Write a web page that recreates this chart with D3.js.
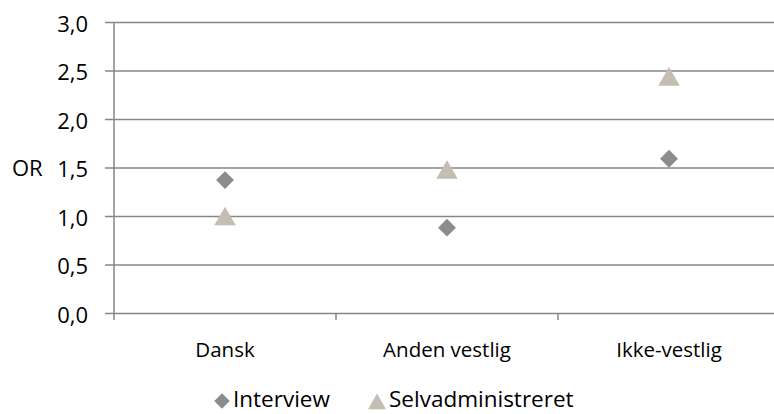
<!DOCTYPE html>
<html>
<head>
<meta charset="utf-8">
<script src="https://cdn.jsdelivr.net/npm/d3@7"></script>
<style>
  body { margin: 0; background: #fff; }
  text { font-family: "Open Sans", "Noto Sans", sans-serif; fill: #000; }
</style>
</head>
<body>
<div id="chart"></div>
<script>
const categories = ['Dansk', 'Anden vestlig', 'Ikke-vestlig'];
const interview = [1.37, 0.88, 1.59];
const selvadm = [1.0, 1.48, 2.44];
const yTicks = [0, 0.5, 1.0, 1.5, 2.0, 2.5, 3.0];

const W = 774, H = 414;
const plotL = 114, plotR = 780, plotT = 22, plotB = 313;

const svg = d3.select('#chart').append('svg').attr('width', W).attr('height', H);

const x = d3.scaleBand().domain(categories).range([plotL, plotR]);
const y = d3.scaleLinear().domain([0, 3]).range([plotB, plotT]);
const fmt = v => d3.format('.1f')(v).replace('.', ',');
const cx = c => x(c) + x.bandwidth() / 2;

// Gridlines + y tick labels
const yAxis = svg.append('g').attr('transform', `translate(${plotL},0)`)
  .call(d3.axisLeft(y).tickValues(yTicks).tickFormat(fmt).tickSize(9).tickSizeOuter(0));
yAxis.select('.domain').attr('stroke', '#868686').attr('stroke-width', 1.5)
  .attr('d', `M0,${plotT}V${plotB + 7}`);
yAxis.selectAll('.tick line').attr('stroke', '#868686').attr('stroke-width', 1.5)
  .attr('x2', plotR - plotL).attr('x1', -9);
yAxis.selectAll('.tick text').attr('x', -26).attr('dy', '0.41em').attr('font-size', 22)
  .attr('font-family', '"Open Sans", sans-serif').attr('fill', '#000');

// x axis category ticks
const xAxis = svg.append('g').attr('transform', `translate(0,${plotB})`);
categories.slice(1).forEach(c => {
  xAxis.append('line').attr('x1', x(c)).attr('x2', x(c)).attr('y1', 0).attr('y2', 7)
    .attr('stroke', '#868686').attr('stroke-width', 1.5);
});
xAxis.selectAll('text.cat').data(categories).enter().append('text').attr('class', 'cat')
  .attr('x', cx).attr('y', 44)
  .attr('text-anchor', 'middle').attr('font-size', 20.5).text(d => d);

svg.append('text').attr('x', 12).attr('y', 176).attr('font-size', 22).text('OR');

// markers
const diamond = d3.symbol().type(d3.symbolSquare).size(160);
const triSize = 200;
const triOff = Math.sqrt(triSize / (Math.sqrt(3) * 3)) / 2;
const tri = d3.symbol().type(d3.symbolTriangle).size(triSize);

svg.selectAll('.int').data(interview).enter().append('path').attr('class', 'int')
  .attr('d', diamond)
  .attr('transform', (d, i) => `translate(${cx(categories[i])},${y(d)}) rotate(45)`)
  .attr('fill', '#8c8c8c');

svg.selectAll('.sel').data(selvadm).enter().append('path').attr('class', 'sel')
  .attr('d', tri)
  .attr('transform', (d, i) => `translate(${cx(categories[i])},${y(d) + triOff})`)
  .attr('fill', '#c4bdb1');

// legend
const lg = svg.append('g').attr('transform', 'translate(0,401)');
lg.append('path').attr('d', d3.symbol().type(d3.symbolSquare).size(120))
  .attr('transform', 'translate(222,0) rotate(45)').attr('fill', '#8c8c8c');
lg.append('text').attr('x', 233).attr('y', 6).attr('font-size', 22.5).text('Interview');
lg.append('path').attr('d', d3.symbol().type(d3.symbolTriangle).size(140))
  .attr('transform', 'translate(377,3)').attr('fill', '#c4bdb1');
lg.append('text').attr('x', 389).attr('y', 6).attr('font-size', 22.5).text('Selvadministreret');
</script>
</body>
</html>
